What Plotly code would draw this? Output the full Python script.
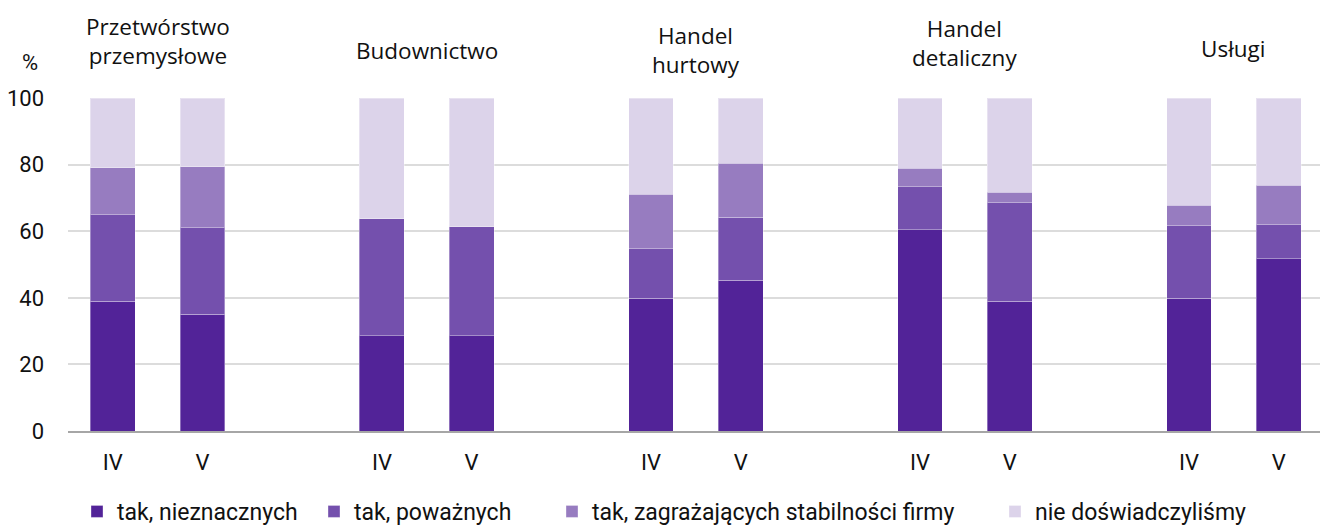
import plotly.graph_objects as go

# ---- data ----
groups = ["Przetwórstwo<br>przemysłowe", "Budownictwo", "Handel<br>hurtowy",
          "Handel<br>detaliczny", "Usługi"]
periods = ["IV", "V"]
series_names = ["tak, nieznacznych", "tak, poważnych",
                "tak, zagrażających stabilności firmy", "nie doświadczyliśmy"]
# bar order: group1 IV, group1 V, group2 IV, group2 V, ...
tak_nieznacznych = [39.0, 35.0, 28.6, 28.6, 39.8, 45.3, 60.4, 38.9, 39.8, 51.7]
tak_powaznych = [26.0, 26.0, 35.2, 32.7, 14.9, 18.9, 12.9, 29.6, 21.9, 10.2]
tak_zagrazajacych = [14.0, 18.4, 0.0, 0.0, 16.4, 16.2, 5.6, 3.2, 6.1, 11.9]
nie_doswiadczylismy = [21.0, 20.6, 36.2, 38.7, 28.9, 19.6, 21.1, 28.3, 32.2, 26.2]
y_ticks = [0, 20, 40, 60, 80, 100]

# ---- styling ----
colors = ["#522398", "#7450AD", "#977CC0", "#DCD3EA"]
tick_font = dict(family="Roboto, Liberation Sans Narrow, sans-serif", size=22, color="#111111")
legend_font = dict(family="Roboto, Liberation Sans Narrow, sans-serif", size=23, color="#111111")
label_font = dict(family="Open Sans, Noto Sans, sans-serif", size=22.5, color="#111111")
W, H = 1320, 525
legend_left_px = [77, 314, 552, 995]
legend_mid_px = 511.5

slot = 3  # IV, V, gap
x_pos = [g * slot + p for g in range(len(groups)) for p in range(len(periods))]
x_text = [periods[p] for g in range(len(groups)) for p in range(len(periods))]

fig = go.Figure()
legend_ids = ["legend", "legend2", "legend3", "legend4"]
for name, vals, col, lid in zip(series_names,
                                [tak_nieznacznych, tak_powaznych, tak_zagrazajacych, nie_doswiadczylismy],
                                colors, legend_ids):
    fig.add_trace(go.Bar(
        x=x_pos, y=vals, name=name, width=0.5, legend=lid,
        marker=dict(color=col, line=dict(color="rgba(255,255,255,0.35)", width=1)),
    ))

# group labels above plot (pixel centres converted to paper coords)
plot_top, plot_bottom = 98, 431
label_centres_px = [40.5, 51, 49.5, 43.5, 48]
for g, (txt, cy) in enumerate(zip(groups, label_centres_px)):
    fig.add_annotation(
        x=g * slot + 0.5, xref="x",
        y=(plot_bottom - cy) / (plot_bottom - plot_top), yref="paper",
        text=txt, showarrow=False, xanchor="center", yanchor="middle",
        font=label_font, align="center",
    )

fig.add_annotation(x=-38 / 1252, xref="paper", y=(plot_bottom - 62) / (plot_bottom - plot_top),
                   yref="paper", text="%", showarrow=False, font=tick_font,
                   xanchor="center", yanchor="middle")

legend_layout = {}
for lid, lx in zip(legend_ids, legend_left_px):
    legend_layout[lid] = dict(orientation="h", xref="container", yref="container",
                              x=lx / W, xanchor="left", y=1 - legend_mid_px / H,
                              yanchor="middle", font=legend_font, itemwidth=30,
                              bgcolor="rgba(0,0,0,0)")

fig.update_layout(
    width=W, height=H,
    barmode="stack",
    plot_bgcolor="white", paper_bgcolor="white",
    margin=dict(l=68, r=0, t=98, b=94),
    font=tick_font,
    showlegend=True,
    **legend_layout,
    xaxis=dict(range=[-0.5, 13.46], tickmode="array",
               tickvals=x_pos, ticktext=x_text, showgrid=False, zeroline=False,
               showline=True, linecolor="#A6A6A6", linewidth=2,
               ticks="", ticklabelstandoff=11, tickfont=tick_font),
    yaxis=dict(range=[0, 100], tickmode="array", tickvals=y_ticks,
               showgrid=True, gridcolor="#DCDCDC", gridwidth=1.5, zeroline=False,
               showline=False, ticks="", ticklabelstandoff=23, tickfont=tick_font,
               automargin=False),
)

fig.write_html("out.html", config={"displayModeBar": False},
               post_script="document.body.style.margin='0';")
